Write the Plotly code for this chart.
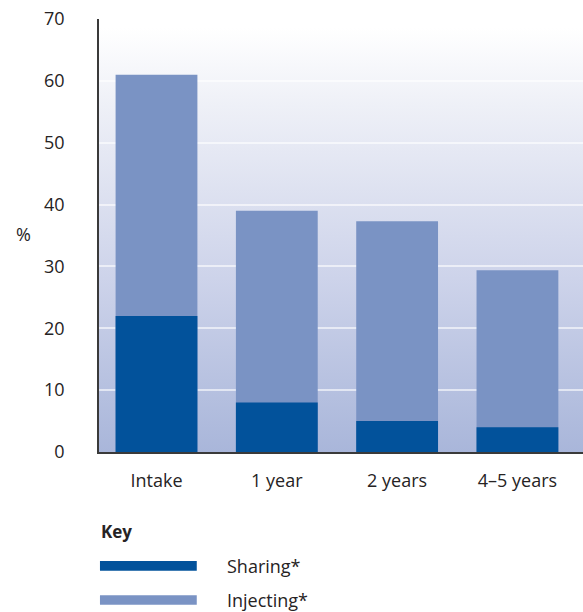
import plotly.graph_objects as go

# Data: percentage of respondents at each follow-up point
categories = ["Intake", "1 year", "2 years", "4\u20135 years"]
injecting = [61, 39, 37.3, 29.4]
sharing = [22, 8, 5, 4]
y_ticks = [0, 10, 20, 30, 40, 50, 60, 70]

DARK = "#02529b"
LIGHT = "#7a93c4"
FONT = "Open Sans"
TEXT = "#262324"
SIZE = 18

# Vertical gradient for the plotting area (white at top to lavender at bottom)
gradient_svg = (
    "data:image/svg+xml;utf8,"
    "<svg xmlns='http://www.w3.org/2000/svg' width='10' height='100' preserveAspectRatio='none'>"
    "<defs><linearGradient id='g' x1='0' y1='0' x2='0' y2='1'>"
    "<stop offset='0' stop-color='%23ffffff'/>"
    "<stop offset='0.02' stop-color='%23ffffff'/>"
    "<stop offset='0.2' stop-color='%23eef0f7'/>"
    "<stop offset='0.6' stop-color='%23cdd3ea'/>"
    "<stop offset='1' stop-color='%23a9b6da'/>"
    "</linearGradient></defs>"
    "<rect width='10' height='100' fill='url(%23g)'/></svg>"
)

fig = go.Figure()
fig.add_trace(go.Bar(x=list(range(len(categories))), y=injecting, name="Injecting*",
                     marker=dict(color=LIGHT, line=dict(width=0)), width=0.68))
fig.add_trace(go.Bar(x=list(range(len(categories))), y=sharing, name="Sharing*",
                     marker=dict(color=DARK, line=dict(width=0)), width=0.68))

fig.update_layout(
    width=583, height=612,
    barmode="overlay",
    showlegend=False,
    paper_bgcolor="white",
    plot_bgcolor="rgba(0,0,0,0)",
    margin=dict(l=99, r=0, t=19, b=160),
    font=dict(family=FONT, size=SIZE, color=TEXT),
    images=[dict(source=gradient_svg, xref="paper", yref="paper", x=0, y=1,
                 sizex=1, sizey=1, sizing="stretch", layer="below")],
    xaxis=dict(
        range=[-0.478, 3.545],
        tickmode="array", tickvals=list(range(len(categories))), ticktext=categories,
        showgrid=False, zeroline=False,
        showline=True, linecolor="#3a3a3a", linewidth=1.5,
        ticks="", ticklabelstandoff=12,
        tickfont=dict(family=FONT, size=SIZE, color=TEXT),
    ),
    yaxis=dict(
        range=[0, 70], tickvals=y_ticks,
        showgrid=True, gridcolor="rgba(255,255,255,0.6)", gridwidth=1.5,
        zeroline=False,
        showline=True, linecolor="#3a3a3a", linewidth=1.5,
        ticks="", ticklabelstandoff=29,
        tickfont=dict(family=FONT, size=SIZE, color=TEXT),
    ),
)

# Axis title, drawn horizontally beside the y axis
fig.add_annotation(text="%", xref="paper", yref="paper", x=-0.157, y=0.503,
                   showarrow=False, xanchor="center", yanchor="middle",
                   font=dict(family=FONT, size=SIZE, color=TEXT))

# Key below the chart
fig.add_annotation(text="<b>Key</b>", xref="paper", yref="paper",
                   x=0.0, y=-0.183, xanchor="left", yanchor="middle", showarrow=False,
                   font=dict(family=FONT, size=SIZE - 1, color=TEXT))
key_items = [("Sharing*", DARK, -0.263), ("Injecting*", LIGHT, -0.342)]
for label, color, ypos in key_items:
    fig.add_shape(type="rect", xref="paper", yref="paper",
                  x0=0.002, x1=0.202, y0=ypos - 0.011, y1=ypos + 0.011,
                  fillcolor=color, line=dict(width=0))
    fig.add_annotation(text=label, xref="paper", yref="paper",
                       x=0.26, y=ypos, xanchor="left", yanchor="middle", showarrow=False,
                       font=dict(family=FONT, size=SIZE, color=TEXT))

fig.write_html("out.html")
